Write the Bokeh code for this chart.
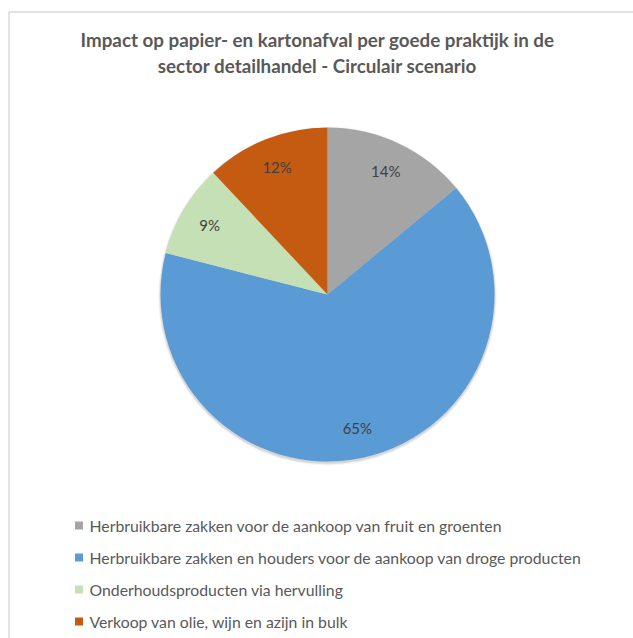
import math
from bokeh.plotting import figure
from bokeh.models import Range1d, ColumnDataSource
from bokeh.core.properties import value
from bokeh.embed import file_html
from bokeh.resources import INLINE

title_lines = ["Impact op papier- en kartonafval per goede praktijk in de",
               "sector detailhandel - Circulair scenario"]
categories = ["Herbruikbare zakken voor de aankoop van fruit en groenten",
              "Herbruikbare zakken en houders voor de aankoop van droge producten",
              "Onderhoudsproducten via hervulling",
              "Verkoop van olie, wijn en azijn in bulk"]
shares = [14, 65, 9, 12]
colors = ["#A5A5A5", "#5B9BD5", "#C5E0B4", "#C55A11"]

W, H = 633, 638
p = figure(width=W, height=H, output_backend="svg", toolbar_location=None,
           x_range=Range1d(0, W), y_range=Range1d(0, H), min_border=0)
p.axis.visible = False
p.grid.visible = False
p.outline_line_color = None
p.background_fill_color = "white"
p.border_fill_color = "white"

# chart frame
p.quad(left=[8.5], right=[W + 40], top=[H - 11.5], bottom=[-40],
       fill_color=None, line_color="#D9D9D9", line_width=1.5)

cx, cy, R = 327, H - 294, 167
total = sum(shares)
fr = [s / total for s in shares]
cum = [0]
for f in fr:
    cum.append(cum[-1] + f)
starts = [math.pi / 2 - 2 * math.pi * cum[i + 1] for i in range(len(fr))]
ends = [math.pi / 2 - 2 * math.pi * cum[i] for i in range(len(fr))]
mids = [math.pi / 2 - 2 * math.pi * (cum[i] + cum[i + 1]) / 2 for i in range(len(fr))]

# soft shadow
for k, a in [(4, 0.05), (3, 0.07), (2, 0.10), (1, 0.12)]:
    p.circle(x=[cx], y=[cy - 1.5], radius=R + k * 0.6, fill_color="#7F7F7F",
             fill_alpha=a, line_color=None)

src = ColumnDataSource(dict(start=starts, end=ends, color=colors))
p.wedge(x=cx, y=cy, radius=R, start_angle="start", end_angle="end",
        direction="anticlock", fill_color="color", line_color=None, source=src)

lr = 0.82 * R
lab = ColumnDataSource(dict(
    x=[cx + lr * math.cos(m) for m in mids],
    y=[cy + lr * math.sin(m) for m in mids],
    t=[f"{s}%" for s in shares]))
p.text(x="x", y="y", text="t", source=lab, text_align="center",
       text_baseline="middle", text_font=value("Lato"),
       text_font_size="15px", text_color="#404040")

# title
p.text(x=[317, 317], y=[H - 39, H - 65], text=title_lines,
       text_align="center", text_baseline="middle", text_font=value("Lato"),
       text_font_style="bold", text_font_size="18.8px", text_color="#595959")

# legend
ly = [H - (525 + 32 * i) for i in range(len(categories))]
p.rect(x=[78.5] * len(categories), y=ly, width=8, height=8,
       fill_color=colors, line_color=None)
p.text(x=[89] * len(categories), y=ly, text=categories, text_align="left",
       text_baseline="middle", text_font=value("Lato"),
       text_font_size="15.8px", text_color="#595959")

open("out.html", "w").write(file_html(p, INLINE))
